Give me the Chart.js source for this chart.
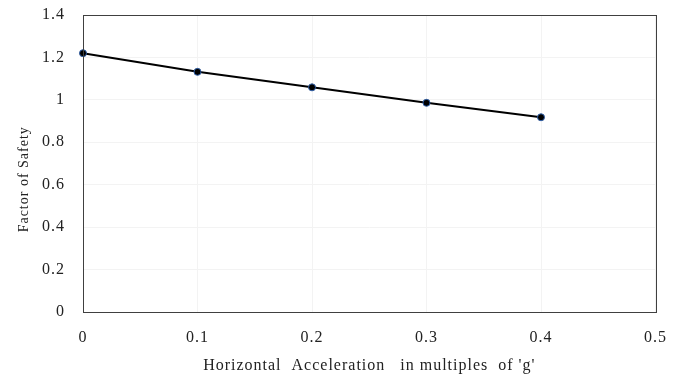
<!DOCTYPE html>
<html lang="en">
<head>
  <meta charset="UTF-8">
  <title>Factor of Safety vs Horizontal Acceleration</title>
  <script src="https://cdn.jsdelivr.net/npm/chart.js"></script>
  <style>
    html, body { margin: 0; padding: 0; background: #fff; }
    #wrap { width: 683px; height: 380px; position: relative; }
  </style>
</head>
<body>
<div id="wrap">
  <canvas id="fosChart" width="683" height="380"></canvas>
</div>
<script>
  // horizontal acceleration (multiples of g) and resulting factor of safety
  const accel = [0, 0.1, 0.2, 0.3, 0.4];
  const factorOfSafety = [1.22, 1.132, 1.059, 0.986, 0.918];
  const xTicks = [0, 0.1, 0.2, 0.3, 0.4, 0.5];
  const yTicks = [0, 0.2, 0.4, 0.6, 0.8, 1, 1.2, 1.4];

  const serif = '"Liberation Serif", "DejaVu Serif", serif';

  // slightly spaced-out lettering, plus a box around the plot area
  const frame = {
    id: 'frame',
    beforeLayout(chart) { chart.ctx.letterSpacing = '1px'; },
    beforeDraw(chart) { chart.ctx.letterSpacing = '1px'; },
    afterDraw(chart) {
      const a = chart.chartArea, c = chart.ctx;
      c.save();
      c.strokeStyle = '#404040';
      c.lineWidth = 1;
      c.strokeRect(Math.round(a.left) + 0.5, Math.round(a.top) + 0.5,
                   Math.round(a.right - a.left), Math.round(a.bottom - a.top));
      c.restore();
    }
  };

  new Chart(document.getElementById('fosChart'), {
    type: 'line',
    data: {
      datasets: [{
        data: accel.map((x, i) => ({ x: x, y: factorOfSafety[i] })),
        borderColor: '#000',
        borderWidth: 2,
        pointRadius: 3.5,
        pointBackgroundColor: '#000',
        pointBorderColor: '#2f5fa8',
        pointBorderWidth: 1,
        tension: 0,
        clip: false
      }]
    },
    options: {
      responsive: false,
      animation: false,
      layout: { padding: { top: 0, right: 26, bottom: 5, left: 4 } },
      plugins: { legend: { display: false }, tooltip: { enabled: false } },
      scales: {
        x: {
          type: 'linear',
          min: 0, max: 0.5,
          afterBuildTicks: s => { s.ticks = xTicks.map(v => ({ value: v })); },
          afterFit: s => { s.height = 63; },
          grid: { color: '#f3f3f3', drawTicks: false },
          border: { display: false },
          ticks: { color: '#222', padding: 16, maxRotation: 0,
                    font: { family: serif, size: 16 },
                    callback: v => String(v) },
          title: { display: true, text: "Horizontal  Acceleration   in multiples  of 'g'",
                   color: '#222', padding: { top: 6, bottom: 0 },
                   font: { family: serif, size: 16 } }
        },
        y: {
          min: 0, max: 1.4,
          afterBuildTicks: s => { s.ticks = yTicks.map(v => ({ value: v })); },
          afterFit: s => { s.width = 79; s.paddingTop = 15; s.paddingBottom = 0; },
          grid: { color: '#f3f3f3', drawTicks: false },
          border: { display: false },
          ticks: { color: '#222', padding: 18,
                    font: { family: serif, size: 16 },
                    callback: v => String(v) },
          // trailing spaces nudge the rotated title a little lower
          title: { display: true, text: 'Factor of Safety       ', color: '#222',
                   padding: { top: 12, bottom: 8 },
                   font: { family: serif, size: 14 } }
        }
      }
    },
    plugins: [frame]
  });
</script>
</body>
</html>
